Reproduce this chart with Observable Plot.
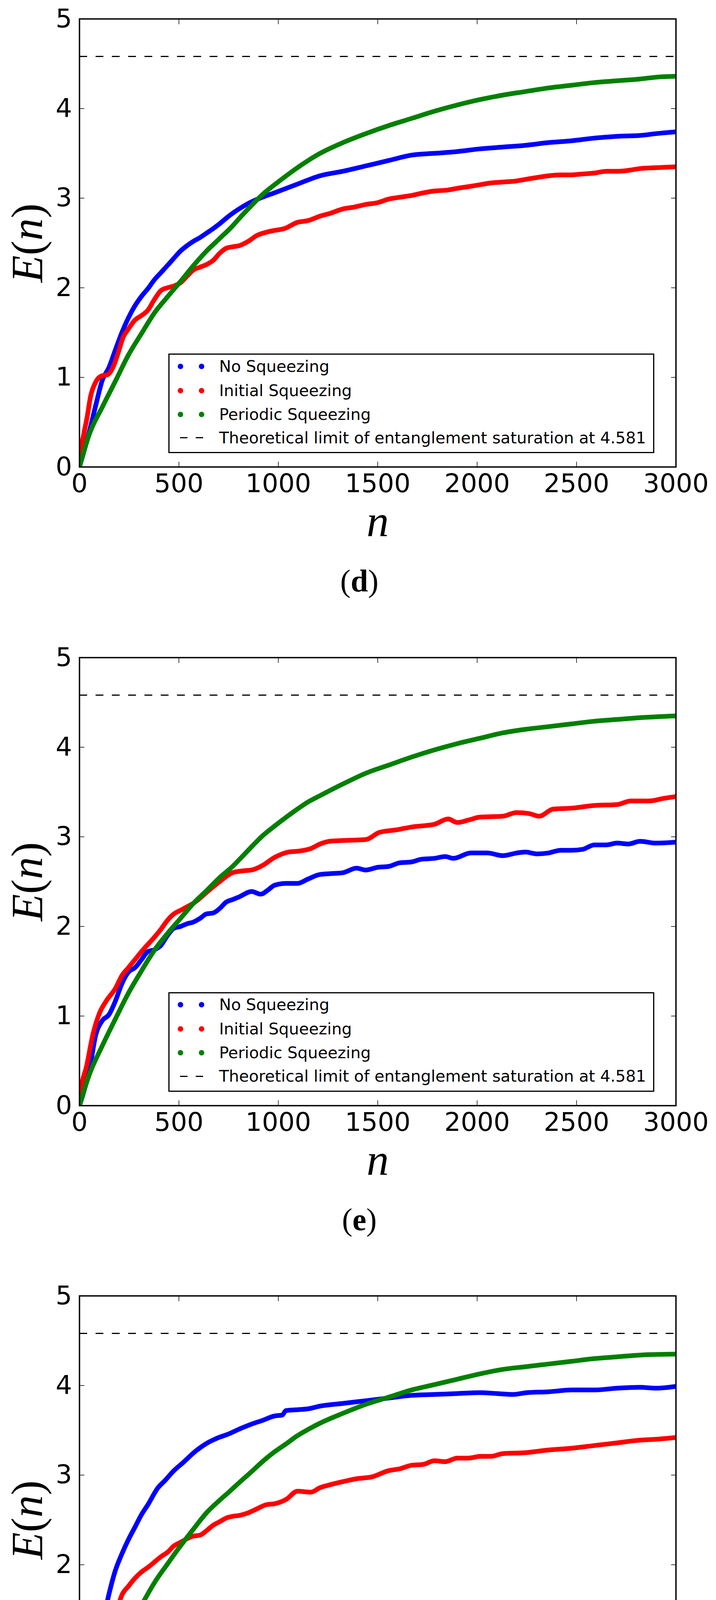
<!DOCTYPE html>
<html><head><meta charset="utf-8">
<script src="https://cdn.jsdelivr.net/npm/d3@7"></script>
<script src="https://cdn.jsdelivr.net/npm/@observablehq/plot@0.6"></script>
<style>
html,body{margin:0;padding:0;background:#fff;overflow:hidden;width:1833px;height:4819px}
.panel{position:relative;width:1833px;height:1634.5px}
.panel svg{display:block}
g[aria-label="x-axis label"] text, g[aria-label="y-axis label"] text{font-family:"Liberation Serif",serif;font-size:114px}
.legend{position:absolute;left:431px;top:905px;width:1244px;height:255px;border:3.5px solid #000;box-sizing:border-box;background:#fff}
.legend .row{position:absolute;left:0;height:50px;width:100%}
.legend .dot{position:absolute;width:14px;height:14px;border-radius:50%;top:18px}
.legend .dash{position:absolute;width:19px;height:3px;top:23.5px;background:#000}
.legend .lab{position:absolute;left:127px;top:0;line-height:50px;font-family:"DejaVu Sans";font-size:41px;white-space:nowrap}
.cap{position:absolute;left:820px;width:200px;top:1447px;text-align:center;font-family:"Liberation Serif",serif;font-size:80px;line-height:80px}
</style></head><body><div id="root"></div>
<script>
// ---- data ----
const xTicks = [0, 500, 1000, 1500, 2000, 2500, 3000];
const yTicks = [0, 1, 2, 3, 4, 5];
const limit = 4.581;
const seriesNames = ["No Squeezing", "Initial Squeezing", "Periodic Squeezing"];
const seriesColors = ["#0000ff", "#ff0000", "#008000"];
const panelLetters = ["d", "e", "f"];

const dNo = [[0,0],[17,0.13],[50,0.40],[82,0.69],[115,0.97],[148,1.11],[181,1.31],[213,1.50],[246,1.665],[279,1.80],[312,1.905],[344,1.99],[377,2.09],[410,2.17],[443,2.25],[475,2.33],[508,2.41],[541,2.47],[574,2.52],[606,2.56],[639,2.61],[672,2.66],[705,2.715],[751,2.80],[810,2.89],[866,2.96],[920,3.01],[981,3.06],[1100,3.16],[1210,3.25],[1325,3.3],[1440,3.36],[1555,3.42],[1670,3.48],[1785,3.5],[1900,3.52],[2014,3.55],[2129,3.57],[2244,3.59],[2359,3.62],[2474,3.64],[2589,3.67],[2704,3.69],[2819,3.70],[2900,3.72],[3000,3.74]];
const dInit = [[0,0],[4,0.13],[20,0.35],[37,0.54],[56,0.79],[82,0.95],[109,1.015],[141,1.03],[168,1.11],[194,1.27],[220,1.45],[246,1.54],[279,1.64],[312,1.69],[344,1.75],[377,1.87],[410,1.97],[443,2.00],[475,2.02],[508,2.056],[541,2.13],[574,2.20],[606,2.23],[639,2.26],[672,2.305],[705,2.385],[737,2.44],[770,2.457],[803,2.47],[850,2.52],[889,2.58],[940,2.62],[981,2.64],[1030,2.66],[1096,2.73],[1150,2.75],[1210,2.80],[1260,2.83],[1325,2.88],[1380,2.90],[1440,2.93],[1500,2.95],[1555,2.99],[1610,3.01],[1670,3.03],[1730,3.06],[1785,3.08],[1850,3.09],[1900,3.11],[1960,3.13],[2014,3.15],[2070,3.17],[2129,3.18],[2190,3.19],[2244,3.21],[2300,3.23],[2359,3.25],[2420,3.26],[2474,3.26],[2530,3.27],[2589,3.28],[2650,3.30],[2704,3.30],[2760,3.31],[2819,3.33],[2900,3.34],[3000,3.35]];
const dPer = [[0,0],[50,0.37],[115,0.67],[181,0.96],[246,1.25],[312,1.49],[377,1.72],[443,1.90],[508,2.07],[574,2.25],[639,2.41],[705,2.55],[770,2.69],[810,2.79],[866,2.92],[920,3.04],[981,3.15],[1040,3.25],[1096,3.34],[1150,3.42],[1210,3.50],[1325,3.62],[1440,3.72],[1555,3.81],[1670,3.89],[1785,3.97],[1900,4.04],[2014,4.10],[2129,4.15],[2244,4.19],[2359,4.23],[2474,4.26],[2589,4.29],[2704,4.31],[2819,4.33],[2900,4.35],[3000,4.36]];

const eNo = [[0,0],[17,0.12],[50,0.40],[82,0.79],[115,0.95],[148,1.015],[181,1.17],[213,1.36],[246,1.49],[279,1.54],[312,1.63],[344,1.72],[377,1.74],[410,1.79],[443,1.90],[475,1.98],[508,2.00],[541,2.03],[574,2.05],[606,2.09],[639,2.14],[672,2.15],[705,2.20],[737,2.27],[770,2.30],[803,2.33],[866,2.39],[912,2.36],[950,2.41],[981,2.46],[1040,2.48],[1096,2.48],[1150,2.53],[1210,2.58],[1270,2.59],[1325,2.60],[1394,2.65],[1440,2.63],[1500,2.66],[1555,2.67],[1610,2.71],[1670,2.72],[1720,2.75],[1785,2.76],[1840,2.78],[1880,2.76],[1969,2.82],[2050,2.82],[2129,2.79],[2200,2.82],[2244,2.83],[2300,2.81],[2359,2.82],[2420,2.85],[2474,2.85],[2530,2.86],[2589,2.91],[2650,2.91],[2704,2.93],[2760,2.92],[2819,2.95],[2900,2.93],[3000,2.94]];
const eInit = [[0,0],[4,0.12],[37,0.455],[69,0.81],[102,1.04],[135,1.17],[181,1.31],[213,1.45],[246,1.54],[279,1.63],[312,1.72],[344,1.80],[377,1.88],[410,1.97],[443,2.07],[475,2.14],[508,2.18],[541,2.22],[574,2.26],[639,2.38],[705,2.50],[770,2.60],[820,2.62],[866,2.63],[920,2.68],[981,2.77],[1050,2.83],[1100,2.84],[1164,2.87],[1210,2.92],[1256,2.95],[1330,2.96],[1440,2.97],[1509,3.05],[1600,3.08],[1670,3.11],[1785,3.14],[1854,3.20],[1900,3.16],[1960,3.19],[2014,3.22],[2129,3.23],[2198,3.27],[2260,3.26],[2313,3.23],[2382,3.31],[2474,3.32],[2589,3.35],[2704,3.36],[2773,3.40],[2865,3.40],[2940,3.43],[3000,3.45]];
const ePer = [[0,0],[50,0.35],[115,0.67],[181,0.97],[246,1.256],[312,1.505],[377,1.736],[443,1.923],[508,2.09],[574,2.26],[639,2.40],[705,2.545],[770,2.67],[810,2.76],[866,2.89],[920,3.01],[981,3.12],[1040,3.22],[1096,3.31],[1150,3.39],[1210,3.46],[1325,3.59],[1440,3.71],[1555,3.80],[1670,3.89],[1785,3.97],[1900,4.04],[2014,4.10],[2129,4.16],[2244,4.20],[2359,4.23],[2474,4.26],[2589,4.29],[2704,4.31],[2819,4.33],[3000,4.35]];

const fNo = [[0,0],[10,0.04],[37,0.36],[63,0.71],[82,0.98],[102,1.19],[122,1.41],[148,1.67],[181,1.94],[213,2.12],[246,2.28],[279,2.42],[312,2.56],[344,2.67],[395,2.86],[430,2.94],[475,3.05],[521,3.14],[580,3.26],[636,3.35],[690,3.41],[751,3.46],[810,3.52],[866,3.57],[920,3.61],[981,3.66],[1020,3.67],[1038,3.72],[1100,3.73],[1150,3.74],[1210,3.77],[1325,3.80],[1440,3.83],[1555,3.86],[1670,3.89],[1785,3.90],[1900,3.91],[2014,3.92],[2100,3.91],[2180,3.90],[2250,3.92],[2359,3.93],[2474,3.95],[2589,3.95],[2704,3.97],[2819,3.98],[2900,3.97],[3000,3.99]];
const fInit = [[0,0],[4,0.2],[24,0.535],[43,0.80],[69,0.98],[96,1.12],[115,1.19],[148,1.25],[168,1.32],[187,1.48],[213,1.66],[246,1.76],[279,1.85],[312,1.92],[344,1.97],[377,2.03],[410,2.09],[443,2.14],[475,2.21],[508,2.25],[541,2.29],[574,2.32],[606,2.33],[639,2.38],[672,2.44],[705,2.48],[737,2.52],[770,2.54],[803,2.55],[850,2.58],[889,2.62],[940,2.67],[981,2.68],[1040,2.73],[1096,2.82],[1164,2.81],[1210,2.86],[1256,2.89],[1330,2.93],[1394,2.96],[1470,2.98],[1555,3.05],[1610,3.07],[1670,3.11],[1730,3.12],[1785,3.16],[1840,3.15],[1900,3.19],[1960,3.19],[2014,3.21],[2070,3.21],[2129,3.24],[2240,3.25],[2359,3.28],[2474,3.30],[2589,3.33],[2704,3.36],[2819,3.39],[2900,3.40],[3000,3.42]];
const fPer = [[0,0],[50,0.34],[115,0.68],[181,1.015],[246,1.30],[312,1.55],[377,1.80],[443,2.01],[508,2.21],[574,2.40],[639,2.58],[705,2.72],[751,2.81],[810,2.93],[866,3.04],[920,3.15],[981,3.26],[1040,3.35],[1096,3.44],[1150,3.51],[1210,3.58],[1325,3.69],[1440,3.79],[1555,3.87],[1670,3.95],[1785,4.01],[1900,4.07],[2014,4.13],[2129,4.18],[2244,4.21],[2359,4.24],[2474,4.27],[2589,4.30],[2704,4.32],[2819,4.34],[3000,4.35]];

const panels = [[dNo, dInit, dPer], [eNo, eInit, ePer], [fNo, fInit, fPer]];

// ---- drawing ----
const root = document.getElementById("root");
const blank = () => "";
panels.forEach((series, pi) => {
  const block = document.createElement("div");
  block.className = "panel";
  const marks = [];
  series.forEach((s, si) => {
    marks.push(Plot.line(s, {x: d => d[0], y: d => d[1], stroke: seriesColors[si], strokeWidth: 12, curve: "monotone-x", clip: true}));
  });
  marks.push(Plot.ruleY([limit], {stroke: "black", strokeWidth: 3, strokeDasharray: "20,21.7"}));
  marks.push(Plot.axisX({ticks: xTicks, tickFormat: d => String(d), tickSize: 0, tickPadding: 18, fontSize: 66,
    label: "n", labelAnchor: "center", labelArrow: "none", labelOffset: 177}));
  marks.push(Plot.axisY({ticks: yTicks, tickFormat: d => String(d), tickSize: 0, tickPadding: 19, fontSize: 66,
    label: "E(n)", labelAnchor: "center", labelArrow: "none", labelOffset: 176}));
  marks.push(Plot.axisX({anchor: "bottom", ticks: xTicks, tickSize: -13, tickFormat: blank, label: null, strokeWidth: 1.5}));
  marks.push(Plot.axisX({anchor: "top", ticks: xTicks, tickSize: -13, tickFormat: blank, label: null, strokeWidth: 1.5}));
  marks.push(Plot.axisY({anchor: "left", ticks: yTicks, tickSize: -13, tickFormat: blank, label: null, strokeWidth: 1.5}));
  marks.push(Plot.axisY({anchor: "right", ticks: yTicks, tickSize: -13, tickFormat: blank, label: null, strokeWidth: 1.5}));
  marks.push(Plot.frame({stroke: "black", strokeWidth: 3.5}));
  const svg = Plot.plot({
    width: 1833, height: 1420,
    marginLeft: 203, marginRight: 103, marginTop: 48, marginBottom: 225,
    x: {domain: [0, 3000]},
    y: {domain: [0, 5]},
    style: {background: "white", color: "black", fontFamily: "DejaVu Sans", overflow: "visible"},
    marks
  });
  const yl = svg.querySelector('g[aria-label="y-axis label"] text');
  if (yl) {
    yl.textContent = "";
    const parts = [["E", true], ["(", false], ["n", true], [")", false]];
    parts.forEach(([t, it]) => {
      const ts = document.createElementNS("http://www.w3.org/2000/svg", "tspan");
      ts.textContent = t;
      ts.setAttribute("font-style", it ? "italic" : "normal");
      yl.appendChild(ts);
    });
  }
  const xl = svg.querySelector('g[aria-label="x-axis label"] text');
  if (xl) xl.setAttribute("font-style", "italic");
  block.appendChild(svg);

  // legend
  const leg = document.createElement("div");
  leg.className = "legend";
  const rowTops = [4.5, 66.5, 127.5, 187.5];
  seriesNames.forEach((name, i) => {
    const row = document.createElement("div");
    row.className = "row"; row.style.top = rowTops[i] + "px";
    [20.5, 74.5].forEach(l => {
      const dot = document.createElement("div");
      dot.className = "dot"; dot.style.left = l + "px"; dot.style.background = seriesColors[i];
      row.appendChild(dot);
    });
    const lab = document.createElement("div");
    lab.className = "lab"; lab.textContent = name;
    row.appendChild(lab);
    leg.appendChild(row);
  });
  const row = document.createElement("div");
  row.className = "row"; row.style.top = rowTops[3] + "px";
  [26.5, 66.5].forEach(l => {
    const da = document.createElement("div");
    da.className = "dash"; da.style.left = l + "px";
    row.appendChild(da);
  });
  const lab = document.createElement("div");
  lab.className = "lab"; lab.textContent = "Theoretical limit of entanglement saturation at " + limit;
  row.appendChild(lab);
  leg.appendChild(row);
  block.appendChild(leg);

  const cap = document.createElement("div");
  cap.className = "cap";
  cap.innerHTML = "(<b>" + panelLetters[pi] + "</b>)";
  block.appendChild(cap);
  root.appendChild(block);
});
</script></body></html>
